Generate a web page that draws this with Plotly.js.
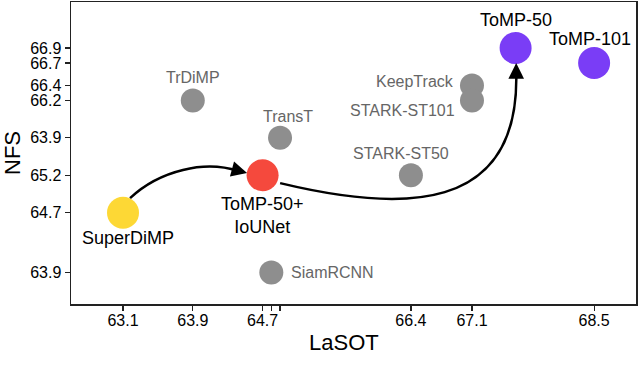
<!DOCTYPE html>
<html>
<head>
<meta charset="utf-8">
<script src="https://cdn.plot.ly/plotly-3.0.1.min.js"></script>
<style>
  html, body { margin: 0; padding: 0; background: #fff; }
  #chart { width: 640px; height: 384px; }
</style>
</head>
<body>
<div id="chart"></div>
<script>
// Trackers: LaSOT vs NFS success
const methods = ['SuperDiMP', 'TrDiMP', 'ToMP-50+<br>IoUNet', 'SiamRCNN', 'TransT',
                 'STARK-ST50', 'KeepTrack', 'STARK-ST101', 'ToMP-50', 'ToMP-101'];
const lasot = [63.1, 63.9, 64.7, 64.8, 64.9, 66.4, 67.1, 67.1, 67.6, 68.5];
const nfs   = [64.7, 66.2, 65.2, 63.9, 65.7, 65.2, 66.4, 66.2, 66.9, 66.7];

// tick labels as printed in the figure
const xTickVals = [63.1, 63.9, 64.7, 64.8, 64.9, 66.4, 67.1, 68.5];
const xTickText = ['63.1', '63.9', '64.7', '', '', '66.4', '67.1', '68.5'];
const yTickVals = [63.9, 64.7, 65.2, 65.7, 66.2, 66.4, 66.7, 66.9];
const yTickText = ['63.9', '64.7', '65.2', '63.9', '66.2', '66.4', '66.7', '66.9'];

// styling per method
const markerColor = {
  'SuperDiMP': '#FDD835',
  'ToMP-50+<br>IoUNet': '#F5493D',
  'ToMP-50': '#7A3DF6',
  'ToMP-101': '#7A3DF6'
};
const grey = '#8E8E8E';
// label placement: [xshift, yshift, xanchor]
const labelPos = {
  'SuperDiMP': [5, -25, 'center'],
  'TrDiMP': [0, 23, 'center'],
  'ToMP-50+<br>IoUNet': [0, -40, 'center'],
  'SiamRCNN': [18, 0, 'left'],
  'TransT': [8, 21, 'center'],
  'STARK-ST50': [-10, 22, 'center'],
  'KeepTrack': [-16, 4, 'right'],
  'STARK-ST101': [-15, -10, 'right'],
  'ToMP-50': [0, 28, 'center'],
  'ToMP-101': [-4, 24, 'center']
};

// arrow curves (cubic bezier control points, data units) and arrow tips
const arrow1 = [[63.181, 64.895], [63.525, 65.269], [64.041, 65.403], [64.419, 65.256]];
const arrow1Tip = [64.522, 65.229];
const arrow2 = [[64.901, 65.095], [66.277, 64.708], [67.653, 64.667], [67.607, 66.579]];
const arrow2Tip = [67.607, 66.700];

const colors = methods.map(m => markerColor[m] || grey);
const sizes = methods.map(m => markerColor[m] ? 32 : 24);

const trace = {
  x: lasot,
  y: nfs,
  mode: 'markers',
  type: 'scatter',
  marker: { color: colors, size: sizes, opacity: 1, line: { width: 0 } },
  hoverinfo: 'text',
  text: methods,
  showlegend: false,
  cliponaxis: false
};

function bezierPath(p) {
  return 'M ' + p[0][0] + ',' + p[0][1] +
    ' C ' + p[1][0] + ',' + p[1][1] + ' ' + p[2][0] + ',' + p[2][1] + ' ' + p[3][0] + ',' + p[3][1];
}

const annotations = methods.map((m, i) => {
  const pos = labelPos[m];
  const highlighted = !!markerColor[m];
  return {
    x: lasot[i], y: nfs[i],
    text: m,
    showarrow: false,
    xanchor: pos[2], yanchor: 'middle',
    xshift: pos[0], yshift: pos[1],
    font: { family: 'Liberation Sans, Arial, sans-serif', size: highlighted ? 18 : 16,
            color: highlighted ? '#000' : '#666' }
  };
});

// arrow heads
annotations.push({
  x: arrow1Tip[0], y: arrow1Tip[1], ax: -11, ay: -3, text: '',
  showarrow: true, arrowhead: 2, arrowsize: 1.25, arrowwidth: 2.5, arrowcolor: '#000', standoff: 0
});
annotations.push({
  x: arrow2Tip[0], y: arrow2Tip[1], ax: 0, ay: 11, text: '',
  showarrow: true, arrowhead: 2, arrowsize: 1.25, arrowwidth: 2.5, arrowcolor: '#000', standoff: 0
});

// x axis title, placed as in the figure
annotations.push({
  xref: 'paper', yref: 'paper', x: 0.483, y: -0.126,
  xanchor: 'center', yanchor: 'middle', showarrow: false,
  text: 'LaSOT', font: { family: 'Liberation Sans, Arial, sans-serif', size: 22, color: '#000' }
});

const layout = {
  width: 640, height: 384,
  margin: { l: 71, r: 4, t: 2, b: 80 },
  paper_bgcolor: '#fff', plot_bgcolor: '#fff',
  font: { family: 'Liberation Sans, Arial, sans-serif', color: '#000' },
  xaxis: {
    range: [62.504, 68.98],
    tickmode: 'array', tickvals: xTickVals, ticktext: xTickText,
    ticks: 'outside', ticklen: 5, tickwidth: 1.2, tickcolor: '#222',
    showgrid: false, zeroline: false,
    showline: true, linecolor: '#222', linewidth: 1.5, mirror: true,
    tickfont: { size: 16 }, ticklabelstandoff: -4
  },
  yaxis: {
    range: [63.48, 67.515],
    tickmode: 'array', tickvals: yTickVals, ticktext: yTickText,
    ticks: 'outside', ticklen: 5, tickwidth: 1.2, tickcolor: '#222',
    showgrid: false, zeroline: false,
    showline: true, linecolor: '#222', linewidth: 1.5, mirror: true,
    tickfont: { size: 16 },
    title: { text: 'NFS', font: { size: 22 }, standoff: 8 }
  },
  shapes: [
    { type: 'path', xref: 'x', yref: 'y', path: bezierPath(arrow1), line: { color: '#000', width: 2.5 } },
    { type: 'path', xref: 'x', yref: 'y', path: bezierPath(arrow2), line: { color: '#000', width: 2.5 } }
  ],
  annotations: annotations
};

Plotly.newPlot('chart', [trace], layout, { displayModeBar: false, staticPlot: true });
</script>
</body>
</html>
